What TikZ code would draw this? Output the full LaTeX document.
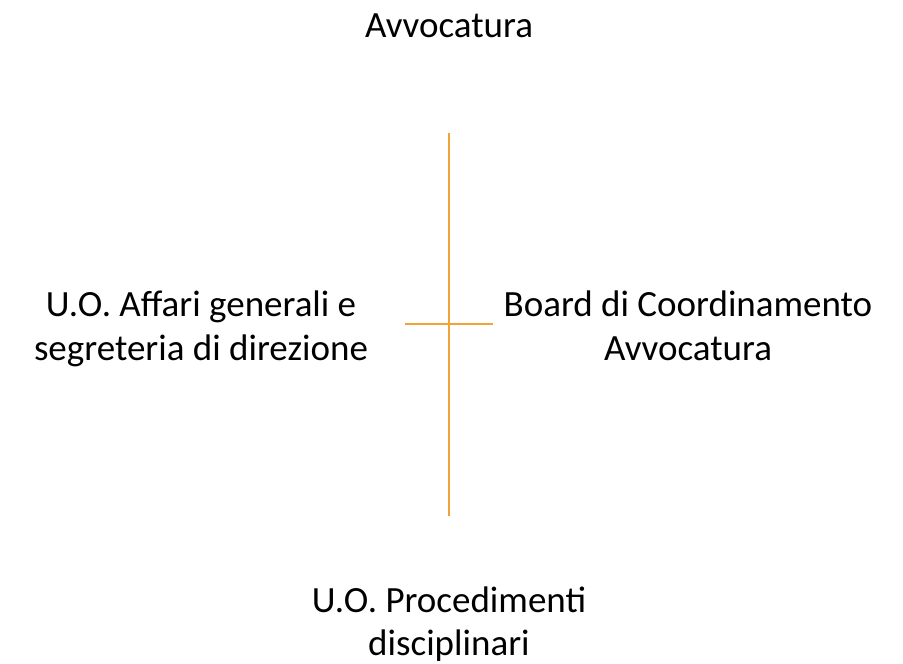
\documentclass[tikz,border=0pt]{standalone}
\usepackage{fontspec}
\setmainfont{Carlito}
\definecolor{linecol}{HTML}{F0A436}
\begin{document}
\begin{tikzpicture}[x=1pt,y=-1pt,
  lbl/.style={inner sep=0pt,align=center,font=\fontsize{37}{44}\selectfont,anchor=base},
  conn/.style={draw=linecol,line width=1.5pt}]
\useasboundingbox (0,0) rectangle (903,664);
\node[lbl] (top) at (449,37) {Avvocatura};
\node[lbl] (left1) at (201,316) {U.O. Affari generali e};
\node[lbl] (left2) at (201,360) {segreteria di direzione};
\node[lbl] (right1) at (688,316) {Board di Coordinamento};
\node[lbl] (right2) at (688,360) {Avvocatura};
\node[lbl] (bot1) at (449,612) {U.O. Procedimenti};
\node[lbl] (bot2) at (449,655) {disciplinari};
\coordinate (vtop) at (449,133);
\coordinate (vbot) at (449,516);
\coordinate (hl) at (405,324);
\coordinate (hr) at (493,324);
\draw[conn] (vtop) -- (vbot);
\draw[conn] (hl) -- (hr);
\end{tikzpicture}
\end{document}
